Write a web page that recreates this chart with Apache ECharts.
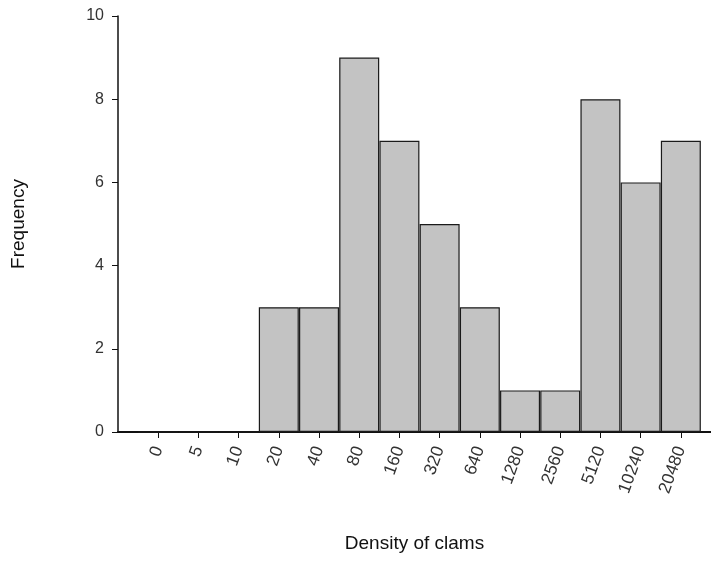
<!DOCTYPE html>
<html><head><meta charset="utf-8">
<script src="https://cdn.jsdelivr.net/npm/echarts@6/dist/echarts.min.js"></script>
<style>html,body{margin:0;padding:0;background:#fff}#c{width:711px;height:561px}</style>
</head><body><div id="c"></div>
<script>
const categories = ['0','5','10','20','40','80','160','320','640','1280','2560','5120','10240','20480'];
const frequency = [0,0,0,3,3,9,7,5,3,1,1,8,6,7];
const yTicks = [0,2,4,6,8,10];

const chart = echarts.init(document.getElementById('c'));
const idx = categories.map((c,i)=>i);
chart.setOption({
  animation:false,
  grid:{left:118,right:0,top:16,bottom:129,containLabel:false},
  xAxis:{
    type:'value', min:-1, max:13.75, interval:1,
    name:'Density of clams', nameLocation:'middle', nameGap:102,
    nameTextStyle:{fontSize:19,color:'#111',fontFamily:'Liberation Sans, Arial'},
    axisLine:{show:true,onZero:false,lineStyle:{color:'#111',width:2}},
    axisTick:{show:true,customValues:idx,length:6,lineStyle:{color:'#111',width:1}},
    axisLabel:{customValues:idx,rotate:70,fontSize:17.5,color:'#333',margin:15,
      fontFamily:'Liberation Sans, Arial',formatter:v=>categories[Math.round(v)]||''},
    splitLine:{show:false}
  },
  yAxis:{
    type:'value', min:0, max:10, interval:2,
    name:'Frequency', nameLocation:'middle', nameGap:90,
    nameTextStyle:{fontSize:19,color:'#111',fontFamily:'Liberation Sans, Arial'},
    axisLine:{show:true,onZero:false,lineStyle:{color:'#111',width:1.5}},
    axisTick:{show:true,length:6,lineStyle:{color:'#111'}},
    axisLabel:{fontSize:16,color:'#333',margin:14,fontFamily:'Liberation Sans, Arial',
      formatter:v=>yTicks.includes(v)?String(v):''},
    splitLine:{show:false}
  },
  series:[{
    type:'bar', barWidth:40,
    data:frequency.map((v,i)=>[i,v]),
    itemStyle:{color:'#c3c3c3',borderColor:'#1a1a1a',borderWidth:1.2}
  }]
});
</script></body></html>
